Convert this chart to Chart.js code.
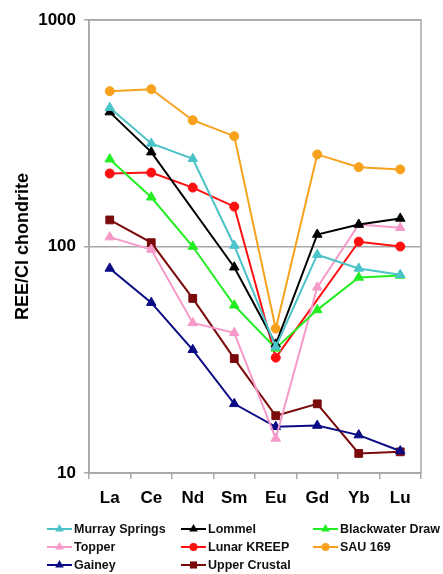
<!DOCTYPE html>
<html lang="en">
<head>
    <meta charset="UTF-8">
    <title>REE / CI chondrite</title>
    <script src="https://cdn.jsdelivr.net/npm/chart.js"></script>
    <style>
        html, body { margin: 0; padding: 0; background: #fff; }
        #wrap { width: 443px; height: 574px; }
    </style>
</head>
<body>
    <div id="wrap"><canvas id="myChart" width="443" height="574"></canvas></div>

    <script>
        // categories (rare earth elements)
        const elements = ['La', 'Ce', 'Nd', 'Sm', 'Eu', 'Gd', 'Yb', 'Lu'];
        const yTicks = [10, 100, 1000];

        // values (null = no point for that element)
        const murraySprings  = [410, 285, 244, 101, 36, 92, 80, 75];
        const lommel         = [392, 261, null, 81, 37, 113, 125, 133];
        const blackwaterDraw = [243, 165, 100, 55, 35.5, 52.5, 73, 74.5];
        const topper         = [110, 97, 46, 41.6, 14.2, 66, 125, 121];
        const lunarKreep     = [210, 212, 182, 150, 32.3, null, 105, 100];
        const sau169         = [485, 495, 361, 307, 43.4, 255, 224, 219];
        const gainey         = [80, 56.5, 35, 20.2, 16, 16.2, 14.7, 12.5];
        const upperCrustal   = [131, 104, 59, 32, 17.9, 20.2, 12.2, 12.4];

        const FONT = "'Liberation Sans', Arial, sans-serif";
        const GRID = '#a8a8a8';

        function series(label, data, color, style) {
            return {
                label: label,
                data: data,
                borderColor: color,
                backgroundColor: color,
                pointBackgroundColor: color,
                pointBorderColor: color,
                borderWidth: 2,
                pointStyle: style,
                pointRadius: style === 'circle' ? 4.5 : (style === 'rect' ? 5.5 : 5.5),
                pointBorderWidth: 1,
                tension: 0,
                spanGaps: true,
                fill: false
            };
        }

        // order = legend order (3 columns)
        const datasets = [
            series('Murray Springs', murraySprings, '#4cc3c9', 'triangle'),
            series('Lommel', lommel, '#000000', 'triangle'),
            series('Blackwater Draw', blackwaterDraw, '#22ee22', 'triangle'),
            series('Topper', topper, '#f59ac9', 'triangle'),
            series('Lunar KREEP', lunarKreep, '#ff1010', 'circle'),
            series('SAU 169', sau169, '#f7a11d', 'circle'),
            series('Gainey', gainey, '#0b0b85', 'triangle'),
            series('Upper Crustal', upperCrustal, '#7a0a0a', 'rect')
        ];

        function marker(ctx, style, x, y, r) {
            ctx.beginPath();
            if (style === 'circle') {
                ctx.arc(x, y, r, 0, Math.PI * 2);
            } else if (style === 'rect') {
                const s = r * Math.SQRT1_2;
                ctx.rect(x - s, y - s, 2 * s, 2 * s);
            } else {
                ctx.moveTo(x, y - r);
                ctx.lineTo(x + r * 0.866, y + r * 0.5);
                ctx.lineTo(x - r * 0.866, y + r * 0.5);
                ctx.closePath();
            }
            ctx.fill();
        }

        // plot frame + legend in three columns below the axis
        const framePlugin = {
            id: 'frameAndLegend',
            afterDraw(chart) {
                const ctx = chart.ctx;
                const a = chart.chartArea;
                ctx.save();
                ctx.strokeStyle = GRID;
                ctx.lineWidth = 1.5;
                ctx.strokeRect(a.left, a.top, a.right - a.left, a.bottom - a.top);

                const colX = [47, 181, 313];
                const rowY = [529, 547, 565];
                ctx.font = 'bold 12.5px ' + FONT;
                ctx.textBaseline = 'middle';
                chart.data.datasets.forEach((ds, i) => {
                    const x = colX[i % 3];
                    const y = rowY[Math.floor(i / 3)];
                    ctx.strokeStyle = ds.borderColor;
                    ctx.fillStyle = ds.borderColor;
                    ctx.lineWidth = 2;
                    ctx.beginPath();
                    ctx.moveTo(x, y);
                    ctx.lineTo(x + 25, y);
                    ctx.stroke();
                    marker(ctx, ds.pointStyle, x + 12.5, y, ds.pointStyle === 'circle' ? 4 : 5);
                    ctx.fillStyle = '#111';
                    ctx.fillText(ds.label, x + 27, y + 1);
                });
                ctx.restore();
            }
        };

        const ctx = document.getElementById('myChart').getContext('2d');
        const myChart = new Chart(ctx, {
            type: 'line',
            data: { labels: elements, datasets: datasets },
            options: {
                responsive: false,
                animation: false,
                layout: { padding: { left: 0, right: 22, top: 20, bottom: 0 } },
                plugins: {
                    legend: { display: false },
                    tooltip: { enabled: false }
                },
                scales: {
                    x: {
                        type: 'category',
                        offset: true,
                        afterFit(scale) { scale.height = 101; },
                        grid: {
                            display: true,
                            drawOnChartArea: false,
                            drawTicks: true,
                            tickLength: 6,
                            color: GRID,
                            lineWidth: 1.5,
                            offset: true
                        },
                        border: { display: true, color: GRID, width: 1.5 },
                        ticks: {
                            color: '#000',
                            padding: 9,
                            font: { family: FONT, size: 17, weight: 'bold' },
                            maxRotation: 0
                        }
                    },
                    y: {
                        type: 'logarithmic',
                        min: 10,
                        max: 1000,
                        afterFit(scale) { scale.width = 89; },
                        afterBuildTicks(scale) {
                            scale.ticks = yTicks.map(v => ({ value: v }));
                        },
                        grid: {
                            color: GRID,
                            lineWidth: 1.5,
                            drawTicks: true,
                            tickLength: 5
                        },
                        border: { display: true, color: GRID, width: 1.5 },
                        ticks: {
                            color: '#000',
                            padding: 8,
                            font: { family: FONT, size: 17, weight: 'bold' },
                            callback: v => String(v)
                        },
                        title: {
                            display: true,
                            text: 'REE/Cl chondrite',
                            color: '#000',
                            padding: { top: 12, bottom: 0 },
                            font: { family: FONT, size: 18, weight: 'bold' }
                        }
                    }
                }
            },
            plugins: [framePlugin]
        });
    </script>
</body>
</html>
